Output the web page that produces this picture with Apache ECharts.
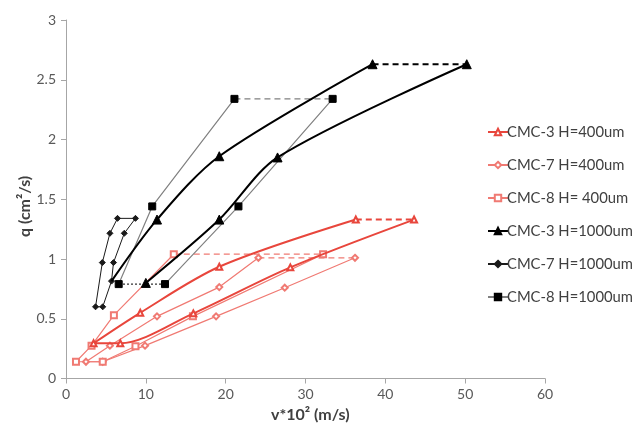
<!DOCTYPE html>
<html>
<head>
<meta charset="utf-8">
<script src="https://cdn.jsdelivr.net/npm/echarts@6/dist/echarts.min.js"></script>
<style>
  html, body { margin: 0; padding: 0; background: #fff; }
  #chart { width: 634px; height: 427px; }
</style>
</head>
<body>
<div id="chart"></div>
<script>
// Flow rate q (cm²/s) against velocity v*10² (m/s); each run traced as a loop [v, q].
const cmc3_400 = [[3.45, 0.295], [9.3, 0.55], [19.2, 0.935], [36.3, 1.33], [43.6, 1.33], [28.1, 0.93], [15.95, 0.545], [6.8, 0.295]];
const cmc7_400 = [[2.5, 0.14], [5.5, 0.275], [11.4, 0.52], [19.2, 0.765], [24.1, 1.01], [36.2, 1.01], [27.4, 0.76], [18.8, 0.52], [9.9, 0.275], [4.6, 0.14]];
const cmc8_400 = [[1.25, 0.14], [3.2, 0.275], [6.0, 0.53], [13.5, 1.04], [32.2, 1.04], [15.9, 0.52], [8.7, 0.27], [4.6, 0.14]];
const cmc3_1000 = [[5.7, 0.815], [11.4, 1.33], [19.2, 1.86], [38.4, 2.63], [50.2, 2.63], [26.5, 1.85], [19.2, 1.33], [10.0, 0.80]];
const cmc7_1000 = [[3.7, 0.6], [4.55, 0.97], [5.5, 1.215], [6.45, 1.34], [8.7, 1.34], [7.3, 1.215], [5.95, 0.97], [5.7, 0.815], [4.6, 0.6]];
const cmc8_1000 = [[6.6, 0.79], [10.8, 1.44], [21.1, 2.34], [33.4, 2.34], [21.6, 1.44], [12.4, 0.79]];

const seriesNames = ['CMC-3 H=400um', 'CMC-7 H=400um', 'CMC-8 H= 400um', 'CMC-3 H=1000um', 'CMC-7 H=1000um', 'CMC-8 H=1000um'];

const RED = '#e8463c';
const PINK = '#f07a73';

// Loop definitions: which segment (index i -> i+1) is dashed / dotted, and whether the loop closes.
const loops = [
  { name: seriesNames[0], pts: cmc3_400, closed: true, breaks: { 3: 'dashed' }, smooth: 0.3,
    color: RED, width: 2, symbol: 'emptyTriangle', size: 6, z: 3 },
  { name: seriesNames[1], pts: cmc7_400, closed: true, breaks: { 4: 'dashed' }, smooth: false,
    color: PINK, width: 1.2, symbol: 'emptyDiamond', size: 6, z: 2 },
  { name: seriesNames[2], pts: cmc8_400, closed: true, breaks: { 3: 'dashed' }, smooth: false,
    color: PINK, width: 1.2, symbol: 'emptyRect', size: 6, z: 2 },
  { name: seriesNames[3], pts: cmc3_1000, closed: false, breaks: { 3: 'dashed' }, smooth: 0.3,
    color: '#000', width: 2, symbol: 'triangle', size: 9, z: 6, hideFirst: true },
  { name: seriesNames[4], pts: cmc7_1000, closed: true, breaks: {}, smooth: false,
    color: '#1a1a1a', width: 1, symbol: 'diamond', size: 6, z: 5 },
  { name: seriesNames[5], pts: cmc8_1000, closed: true, breaks: { 2: 'dashed', 5: 'dotted' }, smooth: false,
    color: '#808080', markColor: '#000', width: 1.2, symbol: 'rect', size: 7, z: 5 }
];

const series = [];
loops.forEach(function (L) {
  const n = L.pts.length;
  const segCount = L.closed ? n : n - 1;
  // Build the solid runs, leaving gaps where a segment is dashed or dotted.
  const data = [];
  for (let i = 0; i < n; i++) {
    const item = { value: L.pts[i] };
    if (L.hideFirst && i === 0) item.symbol = 'none';
    data.push(item);
    if (L.breaks[i] && i < n - 1) data.push({ value: [L.pts[i][0], '-'], symbol: 'none' });
  }
  if (L.closed && !L.breaks[n - 1]) data.push({ value: L.pts[0], symbol: 'none' });

  series.push({
    name: L.name,
    type: 'line',
    data: data,
    smooth: L.smooth,
    connectNulls: false,
    symbol: L.symbol,
    symbolSize: L.size,
    z: L.z,
    lineStyle: { color: L.color, width: L.width },
    itemStyle: { color: L.markColor || L.color, borderColor: L.markColor || L.color, borderWidth: 1 },
    emphasis: { disabled: true },
    animation: false
  });

  for (let i = 0; i < segCount; i++) {
    const style = L.breaks[i];
    if (!style) continue;
    const a = L.pts[i], b = L.pts[(i + 1) % n];
    series.push({
      name: L.name,
      type: 'line',
      data: [a, b],
      symbol: 'none',
      z: L.z - 1,
      lineStyle: {
        color: style === 'dotted' ? '#333' : L.color,
        width: style === 'dotted' ? 1.2 : L.width,
        type: style === 'dotted' ? [2, 2] : [6, 4]
      },
      emphasis: { disabled: true },
      animation: false
    });
  }
});

const chart = echarts.init(document.getElementById('chart'), null, { renderer: 'canvas' });
const FONT = 'Lato, "Open Sans", sans-serif';

chart.setOption({
  backgroundColor: '#fff',
  animation: false,
  grid: { left: 66, right: 89, top: 20, bottom: 48.5, containLabel: false },
  xAxis: {
    type: 'value', min: 0, max: 60, interval: 10,
    axisLine: { show: true, lineStyle: { color: '#a6a6a6', width: 1 } },
    axisTick: { show: true, length: 5, lineStyle: { color: '#a6a6a6' } },
    axisLabel: { color: '#595959', fontSize: 14, fontFamily: FONT, margin: 9 },
    splitLine: { show: false }
  },
  yAxis: {
    type: 'value', min: 0, max: 3, interval: 0.5,
    axisLine: { show: true, lineStyle: { color: '#a6a6a6', width: 1 } },
    axisTick: { show: true, length: 5, lineStyle: { color: '#a6a6a6' } },
    axisLabel: { color: '#595959', fontSize: 14, fontFamily: FONT, margin: 10 },
    splitLine: { show: false }
  },
  legend: {
    data: seriesNames,
    orient: 'vertical',
    left: 482,
    top: 118,
    itemWidth: 20,
    itemHeight: 8,
    itemGap: 15,
    selectedMode: false,
    textStyle: { color: '#404040', fontSize: 14.8, fontFamily: FONT, lineHeight: 18, padding: [0, 0, 0, -6] }
  },
  graphic: [
    {
      type: 'text', left: 271, top: 407,
      style: { text: 'v*10² (m/s)', font: 'bold 16px ' + FONT, fill: '#404040' }
    },
    {
      type: 'text', x: 17, y: 237, rotation: Math.PI / 2,
      style: { text: 'q (cm²/s)', font: 'bold 16px ' + FONT, fill: '#404040' }
    }
  ],
  series: series
});
</script>
</body>
</html>
